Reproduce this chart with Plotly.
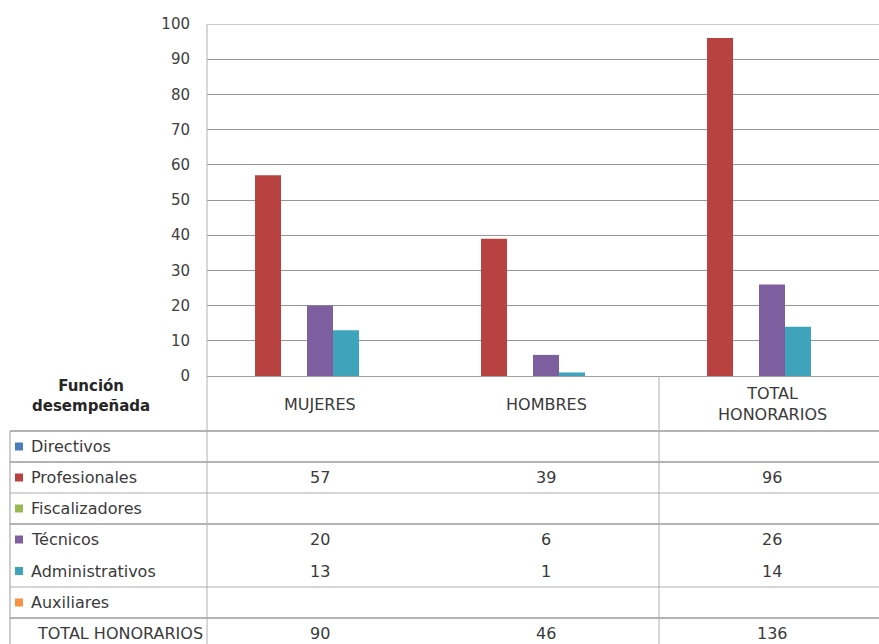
import plotly.graph_objects as go

W, H = 879, 644

categories = ["MUJERES", "HOMBRES", "TOTAL HONORARIOS"]
category_labels = ["MUJERES", "HOMBRES", "TOTAL<br>HONORARIOS"]
series_names = ["Directivos", "Profesionales", "Fiscalizadores", "Técnicos",
                "Administrativos", "Auxiliares", "TOTAL HONORARIOS"]
directivos = [None, None, None]
profesionales = [57, 39, 96]
fiscalizadores = [None, None, None]
tecnicos = [20, 6, 26]
administrativos = [13, 1, 14]
auxiliares = [None, None, None]
total_honorarios = [90, 46, 136]
series_values = [directivos, profesionales, fiscalizadores, tecnicos,
                 administrativos, auxiliares, total_honorarios]
series_colors = ["#4A7EBB", "#B8423F", "#98B954", "#7D5FA0", "#3FA3BC", "#F59342", "rgba(0,0,0,0)"]
y_ticks = list(range(0, 101, 10))
header_title = "Función<br>desempeñada"

FONT = "DejaVu Sans"
TXT = "#3a3a3a"
TS = 16

def px(x):
    return x / W

def py(y):
    return 1 - y / H

fig = go.Figure()
for name, vals, col in zip(series_names, series_values, series_colors):
    fig.add_trace(go.Bar(
        x=categories, y=vals,
        name=name, marker=dict(color=col, line=dict(width=0)),
        hoverinfo="skip" if col.startswith("rgba") else None,
        showlegend=False,
    ))

plot_left, plot_top, plot_bottom = 207, 24, 376
cat_w = 226.0
span = (W - plot_left) / cat_w

shapes = []
annotations = []

# top gridline at 100
shapes.append(dict(type="line", xref="paper", yref="y", x0=px(plot_left), x1=1,
                   y0=y_ticks[-1], y1=y_ticks[-1], line=dict(color="#979797", width=1.2),
                   layer="below"))

# table horizontal lines
row_lines = [(431, "#9a9a9a"), (462, "#9a9a9a"), (493, "#c8c8c8"), (524, "#9a9a9a"),
             (587, "#c8c8c8"), (618, "#9a9a9a")]
for yline, col in row_lines:
    shapes.append(dict(type="line", xref="paper", yref="paper", x0=px(10), x1=1,
                       y0=py(yline), y1=py(yline), line=dict(color=col, width=1.3)))
# vertical lines
shapes.append(dict(type="line", xref="paper", yref="paper", x0=px(10), x1=px(10),
                   y0=py(431), y1=0, line=dict(color="#9a9a9a", width=1)))
shapes.append(dict(type="line", xref="paper", yref="paper", x0=px(plot_left), x1=px(plot_left),
                   y0=0, y1=py(plot_top), line=dict(color="#b0b0b0", width=1)))
shapes.append(dict(type="line", xref="x", yref="paper", x0=1.5, x1=1.5,
                   y0=py(plot_bottom), y1=0, line=dict(color="#b0b0b0", width=1)))

# header
annotations.append(dict(text="<b>" + header_title + "</b>", xref="paper", yref="paper",
                        x=px(91), y=py(396), xanchor="center", yanchor="middle",
                        showarrow=False, font=dict(family=FONT, size=15, color="#262626")))
for i, lab in enumerate(category_labels):
    annotations.append(dict(text=lab, xref="x", yref="paper", x=i, y=py(404),
                            xanchor="center", yanchor="middle", showarrow=False,
                            font=dict(family=FONT, size=TS, color=TXT)))

row_centers = [446.5, 477.5, 508.5, 539.5, 571, 602.5, 633.5]
for name, vals, col, yc in zip(series_names, series_values, series_colors, row_centers):
    if not col.startswith("rgba"):
        shapes.append(dict(type="rect", xref="paper", yref="paper", x0=px(15), x1=px(23),
                           y0=py(yc + 4), y1=py(yc - 4), fillcolor=col, line=dict(width=0)))
        xt = 29
    else:
        xt = 35
    annotations.append(dict(text=name, xref="paper", yref="paper", x=px(xt), y=py(yc),
                            xanchor="left", yanchor="middle", showarrow=False,
                            font=dict(family=FONT, size=TS, color=TXT)))
    for i, v in enumerate(vals):
        if v is not None:
            annotations.append(dict(text=str(v), xref="x", yref="paper", x=i, y=py(yc),
                                    xanchor="center", yanchor="middle", showarrow=False,
                                    font=dict(family=FONT, size=TS, color=TXT)))

fig.update_layout(
    width=W, height=H, autosize=False,
    margin=dict(l=0, r=0, t=0, b=0, pad=0, autoexpand=False),
    paper_bgcolor="white", plot_bgcolor="white",
    barmode="group", bargap=0.195, bargroupgap=0,
    xaxis=dict(domain=[px(plot_left), 1], range=[-0.5, -0.5 + span],
               showticklabels=False, showgrid=False, zeroline=False, automargin=False,
               showline=False, ticks="", fixedrange=True),
    yaxis=dict(domain=[py(plot_bottom), py(plot_top)], range=[0, 100],
               tickvals=y_ticks, ticktext=[str(t) for t in y_ticks], automargin=False,
               showgrid=True, gridcolor="#979797", gridwidth=1.2,
               zeroline=True, zerolinecolor="#a0a0a0", zerolinewidth=1.3,
               showline=False, ticks="", ticklabelstandoff=16,
               tickfont=dict(family=FONT, size=15, color="#404040")),
    shapes=shapes, annotations=annotations,
    font=dict(family=FONT),
)

post = (
    "document.documentElement.style.margin='0';"
    "document.documentElement.style.padding='0';"
    "document.documentElement.style.overflow='hidden';"
    "document.body.style.margin='0';"
    "document.body.style.padding='0';"
    "document.body.style.overflow='hidden';"
)

fig.write_html("out.html", post_script=post, config={"displayModeBar": False})
